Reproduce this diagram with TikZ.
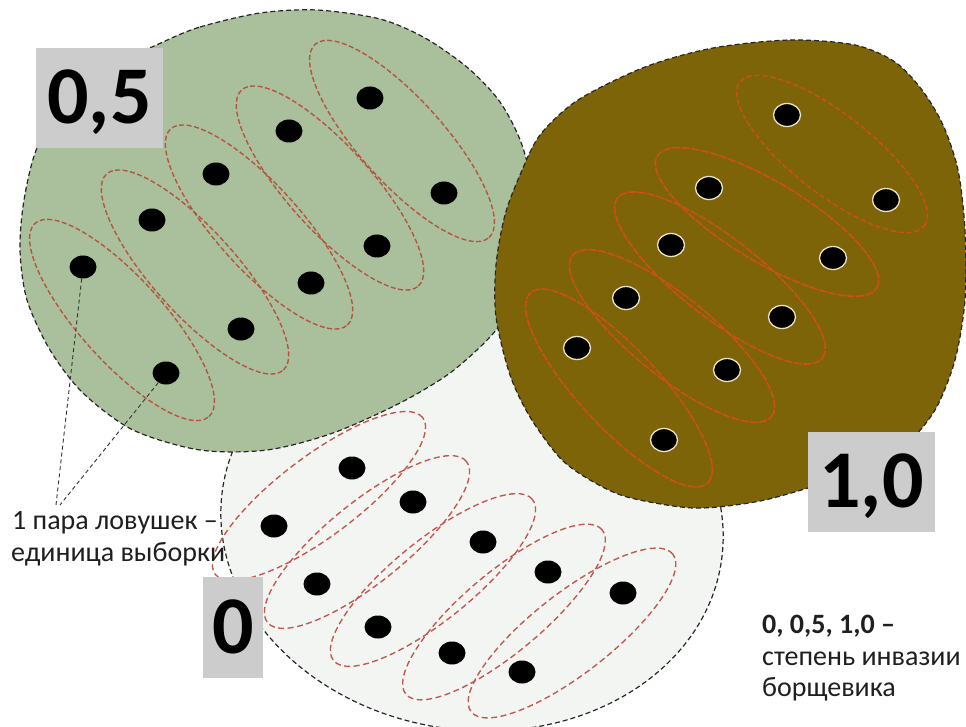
\documentclass[tikz,border=0pt]{standalone}
\usepackage{fontspec}
\setmainfont{Carlito}
\usetikzlibrary{shapes.geometric}
\definecolor{greenfill}{RGB}{170,192,156}
\definecolor{brownfill}{RGB}{126,100,8}
\definecolor{whitefill}{RGB}{243,245,243}
\definecolor{boxgray}{RGB}{204,204,204}
\definecolor{gred}{RGB}{180,85,65}
\definecolor{wred}{RGB}{195,90,80}
\definecolor{bred}{RGB}{205,80,20}
\definecolor{dotring}{RGB}{235,228,195}
\begin{document}
\begin{tikzpicture}[x=1pt,y=-1pt,
  region/.style={draw=black!85, dash pattern=on 5pt off 3pt, line width=1.2pt},
  gpair/.style={draw=gred, line width=1.4pt, dash pattern=on 5pt off 2.5pt},
  wpair/.style={draw=wred, line width=1.4pt, dash pattern=on 6pt off 3.5pt},
  bpair/.style={draw=bred, line width=1.6pt, dash pattern=on 8pt off 1.5pt},
  bpairtop/.style={draw=bred, line width=1.5pt, dash pattern=on 5pt off 3pt},
  trap/.style={ellipse, fill=black, minimum width=27pt, minimum height=23pt, inner sep=0pt},
  btrap/.style={trap, draw=dotring, line width=1.3pt},
  leader/.style={draw=black!80, dash pattern=on 4pt off 3pt, line width=0.9pt},
  numbox/.style={fill=boxgray, inner sep=0pt, text height=51pt, text depth=0pt,
    font=\fontsize{82}{82}\selectfont\bfseries},
  note/.style={font=\fontsize{28}{32}\selectfont, anchor=base west, inner sep=0pt, text=black!88}
]
\useasboundingbox (0,0) rectangle (966,727);
\fill[white] (0,0) rectangle (966,727);

% ---- region 0 (white) ----
\filldraw[region, fill=whitefill, rotate around={-8:(472,525)}] (472,525) ellipse [x radius=252pt, y radius=205pt];
\draw[wpair, rotate around={37:(319,496)}] (319,496) ellipse [x radius=130pt, y radius=40pt];
\draw[wpair, rotate around={39:(367,542)}] (367,542) ellipse [x radius=128pt, y radius=40pt];
\draw[wpair, rotate around={39:(433,580)}] (433,580) ellipse [x radius=128pt, y radius=40pt];
\draw[wpair, rotate around={40:(504,612)}] (504,612) ellipse [x radius=128pt, y radius=40pt];
\draw[wpair, rotate around={38:(572,633)}] (572,633) ellipse [x radius=128pt, y radius=40pt];
\node[trap] (w1) at (352,468) {};
\node[trap] (w2) at (274,526) {};
\node[trap] (w3) at (413,502) {};
\node[trap] (w4) at (317,584) {};
\node[trap] (w5) at (483,542) {};
\node[trap] (w6) at (378,627) {};
\node[trap] (w7) at (548,572) {};
\node[trap] (w8) at (452,653) {};
\node[trap] (w9) at (623,593) {};
\node[trap] (w10) at (522,672) {};

% ---- region 0,5 (green) ----
\filldraw[region, fill=greenfill] plot[smooth cycle] coordinates {
 (163,42) (200,27) (260,13) (317,10) (380,19) (425,38) (468,68) (500,102)
 (522,145) (534,200) (530,262) (513,305) (490,337) (450,373) (400,403)
 (333,433) (267,450) (200,450) (133,430) (83,393) (50,350) (27,300)
 (20,250) (24,200) (37,148) (65,105) (110,68)};
\draw[gpair, rotate around={-48:(122,320)}] (122,320) ellipse [x radius=130pt, y radius=42pt];
\draw[gpair, rotate around={-48:(195,272)}] (195,272) ellipse [x radius=132pt, y radius=42pt];
\draw[gpair, rotate around={-48:(259,227)}] (259,227) ellipse [x radius=132pt, y radius=42pt];
\draw[gpair, rotate around={-48:(330,188)}] (330,188) ellipse [x radius=132pt, y radius=42pt];
\draw[gpair, rotate around={-48:(402,141)}] (402,141) ellipse [x radius=130pt, y radius=42pt];
\node[trap] (g1) at (370,98) {};
\node[trap] (g2) at (289,131) {};
\node[trap] (g3) at (216,174) {};
\node[trap] (g4) at (152,220) {};
\node[trap] (g5) at (83,267) {};
\node[trap] (g6) at (444,193) {};
\node[trap] (g7) at (377,246) {};
\node[trap] (g8) at (311,283) {};
\node[trap] (g9) at (241,329) {};
\node[trap] (g10) at (166,373) {};

% ---- region 1,0 (brown) ----
\filldraw[region, fill=brownfill] plot[smooth cycle] coordinates {
 (713,48) (790,40) (855,45) (895,62) (922,90) (943,125) (958,170)
 (965,230) (965,300) (955,360) (935,410) (905,445) (860,470) (808,488)
 (755,502) (693,508) (627,497) (590,480) (560,458) (530,417) (510,375)
 (496,317) (496,265) (505,215) (520,175) (540,135) (578,100) (645,67)};
\draw[bpairtop, rotate around={-38:(832,154)}] (832,154) ellipse [x radius=117pt, y radius=40pt];
\draw[bpair, rotate around={-31:(767,222)}] (767,222) ellipse [x radius=128pt, y radius=40pt];
\draw[bpair, rotate around={-38:(720,278)}] (720,278) ellipse [x radius=130pt, y radius=40pt];
\draw[bpair, rotate around={-39:(672,336)}] (672,336) ellipse [x radius=128pt, y radius=40pt];
\draw[bpair, rotate around={-47:(619,388)}] (619,388) ellipse [x radius=130pt, y radius=40pt];
\node[btrap] (b1) at (787,115) {};
\node[btrap] (b2) at (886,200) {};
\node[btrap] (b3) at (709,188) {};
\node[btrap] (b4) at (833,258) {};
\node[btrap] (b5) at (671,245) {};
\node[btrap] (b6) at (782,317) {};
\node[btrap] (b7) at (626,298) {};
\node[btrap] (b8) at (727,370) {};
\node[btrap] (b9) at (577,348) {};
\node[btrap] (b10) at (664,440) {};

% ---- leaders ----
\coordinate (lead1) at (56,505);
\coordinate (lead2) at (60,505);
\draw[leader] (g5) -- (lead1);
\draw[leader] (g10) -- (lead2);

% ---- labels ----
\node[numbox, minimum width=127pt, minimum height=100pt] (l05) at (99.5,98) {0,5};
\node[numbox, minimum width=127pt, minimum height=100pt] (l10) at (871.5,482) {1,0};
\node[numbox, minimum width=60pt, minimum height=101pt] (l0) at (233,627.5) {0};

\node[note] (n1a) at (12,529) {1 пара ловушек –};
\node[note] (n1b) at (11,561) {единица выборки};
\node[note, font=\fontsize{28}{32}\selectfont\bfseries] (n2a) at (762,633) {0, 0,5, 1,0 –};
\node[note] (n2b) at (762,665) {степень инвазии};
\node[note] (n2c) at (762,696) {борщевика};
\end{tikzpicture}
\end{document}
